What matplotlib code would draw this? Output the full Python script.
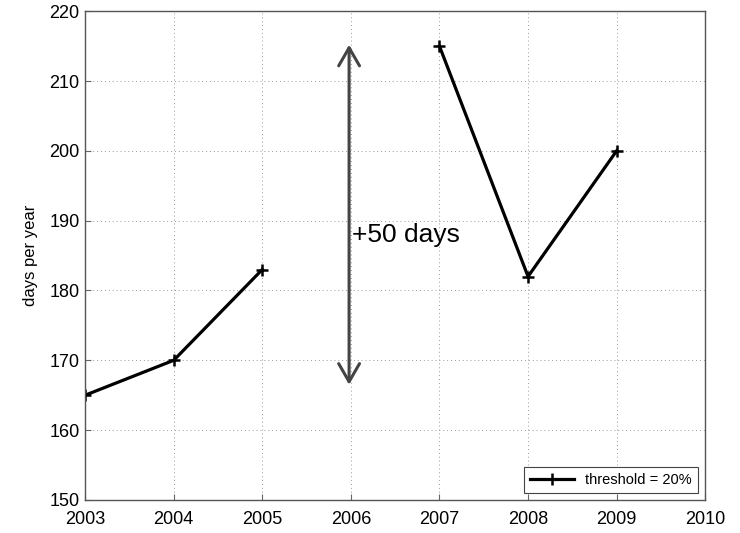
import numpy as np
import matplotlib
matplotlib.use("Agg")
import matplotlib.pyplot as plt

plt.rcParams['font.family'] = ['Liberation Sans', 'DejaVu Sans']

# yearly values, 2006 missing
years = [2003, 2004, 2005, 2006, 2007, 2008, 2009]
days = [165, 170, 183, np.nan, 215, 182, 200]
xticks = [2003, 2004, 2005, 2006, 2007, 2008, 2009, 2010]
yticks = [150, 160, 170, 180, 190, 200, 210, 220]
arrow_x = 2005.98
arrow_lo, arrow_hi = 166.5, 215.2
note = "+50 days"

fig = plt.figure(figsize=(7.4, 5.33), dpi=100)
ax = fig.add_axes([0.115, 0.062, 0.838, 0.917])

ax.plot(years, days, color='black', lw=2.3, marker='+', ms=8, mew=1.8,
        label='threshold = 20%')

ax.annotate('', xy=(arrow_x, arrow_hi), xytext=(arrow_x, arrow_lo),
            arrowprops=dict(arrowstyle='<->,head_length=1.3,head_width=0.75',
                            color='#444444', lw=2.2, shrinkA=0, shrinkB=0))
ax.text(arrow_x + 0.03, 188, note, fontsize=19, va='center', ha='left')

ax.set_xlim(2003, 2010)
ax.set_ylim(150, 220)
ax.set_xticks(xticks)
ax.set_yticks(yticks)
ax.tick_params(direction='in', labelsize=13, length=4, color='#666666')
ax.tick_params(axis='x', pad=8)
ax.tick_params(axis='y', pad=4)
ax.grid(True, linestyle=(0, (1, 3)), color='#999999', lw=0.7)
for s in ax.spines.values():
    s.set_color('#555555')
    s.set_linewidth(1.0)
ax.set_ylabel('days per year', fontsize=12, labelpad=8)

leg = ax.legend(loc='lower right', fontsize=10.5, fancybox=False, framealpha=1,
                edgecolor='#444444', handlelength=3, borderaxespad=0.5)
leg.get_frame().set_linewidth(0.8)

fig.savefig('out.png', dpi=100)
